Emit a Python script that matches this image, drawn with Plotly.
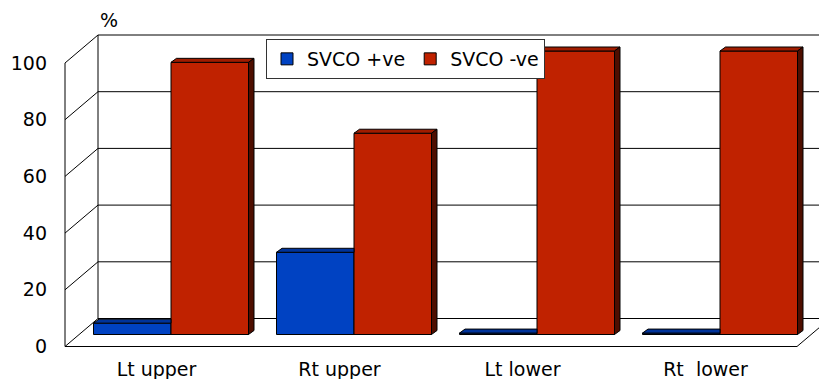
import plotly.graph_objects as go

# ---------------- data ----------------
categories = ["Lt upper", "Rt upper", "Lt lower", "Rt\u00a0 lower"]
svco_pos = [4, 29, 0.5, 0.5]
svco_neg = [96, 71, 100, 100]
y_ticks = [0, 20, 40, 60, 80, 100]
series_names = ["SVCO +ve", "SVCO -ve"]

# ---------------- style / geometry ----------------
W, H = 819, 379
M_L, M_R, M_T, M_B = 52, 0, 30, 27
X0_PX, CAT_PX = 171.0, 183.0      # bar-plane pixel of category 0, pixels per category
Y0_PX, UNIT_PX = 334.5, 2.835     # bar-plane pixel of value 0, pixels per unit
BAR_W = 77.5 / CAT_PX

front_col = ["#0042C2", "#C02200"]
top_col = ["#00339A", "#A01C00"]
side_col = ["#001E66", "#4E0E00"]
FONT = "DejaVu Sans"
FS = 19

# depth offsets (in data units)
fdx, fdy = -14.5 / CAT_PX, -12.0 / UNIT_PX   # front plane
bdx, bdy = 18.5 / CAT_PX, 16.0 / UNIT_PX     # back wall
ddx, ddy = 5.5 / CAT_PX, 4.0 / UNIT_PX       # bar depth

xr = [(M_L - X0_PX) / CAT_PX, (W - M_R - X0_PX) / CAT_PX]
yr = [(Y0_PX - (H - M_B)) / UNIT_PX, (Y0_PX - M_T) / UNIT_PX]

series = [svco_pos, svco_neg]
n = len(categories)
idx = list(range(n))
offsets = [-BAR_W, 0.0]

fig = go.Figure()

# bars (front faces)
for k, vals in enumerate(series):
    fig.add_trace(go.Bar(
        x=idx, y=vals, width=BAR_W, offset=offsets[k], name=series_names[k],
        marker=dict(color=front_col[k], line=dict(color="#000000", width=1)),
        hoverinfo="skip",
    ))

# 3D faces (top and side), computed from the values
for k, vals in enumerate(series):
    for i, v in enumerate(vals):
        xl = i + offsets[k]
        xrt = xl + BAR_W
        neighbor = series[k + 1][i] if k + 1 < len(series) else None
        if neighbor is not None and neighbor >= v + ddy:
            px = [xl, xrt, xrt, xl + ddx, xl]
            py = [v, v, v + ddy, v + ddy, v]
        else:
            px = [xl, xrt, xrt + ddx, xl + ddx, xl]
            py = [v, v, v + ddy, v + ddy, v]
        fig.add_trace(go.Scatter(
            x=px, y=py, mode="lines", fill="toself", fillcolor=top_col[k],
            line=dict(color="#000000", width=1), showlegend=False, hoverinfo="skip",
        ))
        base = 0 if neighbor is None else neighbor
        if base < v:
            sx = [xrt, xrt, xrt + ddx, xrt + ddx, xrt]
            sy = [base, v, v + ddy, base + ddy, base]
            fig.add_trace(go.Scatter(
                x=sx, y=sy, mode="lines", fill="toself", fillcolor=side_col[k],
                line=dict(color="#000000", width=1), showlegend=False, hoverinfo="skip",
            ))

# dummy trace for the front-plane axes
fig.add_trace(go.Scatter(x=[], y=[], xaxis="x2", yaxis="y2", showlegend=False))

# walls and floor
L, R = -0.5, n - 0.5
top = max(y_ticks)
line_style = dict(color="#000000", width=1)
shapes = []
for v in y_ticks:
    shapes.append(dict(type="line", xref="x", yref="y", x0=L + bdx, y0=v + bdy,
                       x1=R + bdx, y1=v + bdy, line=line_style, layer="below"))
    shapes.append(dict(type="line", xref="x", yref="y", x0=L + fdx, y0=v + fdy,
                       x1=L + bdx, y1=v + bdy, line=line_style, layer="below"))
shapes += [
    dict(type="line", xref="x", yref="y", x0=L + bdx, y0=bdy, x1=L + bdx, y1=top + bdy,
         line=line_style, layer="below"),
    dict(type="line", xref="x", yref="y", x0=R + bdx, y0=bdy, x1=R + bdx, y1=top + bdy,
         line=line_style, layer="below"),
    dict(type="line", xref="x", yref="y", x0=L + fdx, y0=fdy, x1=L + fdx, y1=top + fdy,
         line=line_style, layer="below"),
    dict(type="line", xref="x", yref="y", x0=L + fdx, y0=fdy, x1=R + fdx, y1=fdy,
         line=line_style, layer="below"),
    dict(type="line", xref="x", yref="y", x0=R + fdx, y0=fdy, x1=R + bdx, y1=bdy,
         line=line_style, layer="below"),
]

plot_w = W - M_L - M_R
plot_h = H - M_T - M_B

fig.update_layout(
    width=W, height=H,
    margin=dict(l=M_L, r=M_R, t=M_T, b=M_B, pad=0),
    paper_bgcolor="white", plot_bgcolor="white",
    font=dict(family=FONT, size=FS, color="#000000"),
    barmode="overlay",
    shapes=shapes,
    xaxis=dict(range=xr, visible=False, fixedrange=True),
    yaxis=dict(range=yr, visible=False, fixedrange=True),
    xaxis2=dict(range=[xr[0] - fdx, xr[1] - fdx], overlaying="x", side="bottom",
                tickmode="array", tickvals=idx, ticktext=categories,
                showgrid=False, zeroline=False, showline=False, ticks="",
                ticklabelstandoff=4, tickfont=dict(family=FONT, size=FS), fixedrange=True),
    yaxis2=dict(range=[yr[0] - fdy, yr[1] - fdy], overlaying="y", side="left",
                tickmode="array", tickvals=y_ticks, ticktext=[str(t) for t in y_ticks],
                showgrid=False, zeroline=False, showline=False, ticks="",
                ticklabelstandoff=4, tickfont=dict(family=FONT, size=FS), fixedrange=True),
    legend=dict(orientation="h", x=(266 - M_L) / plot_w, y=(H - M_B - 39) / plot_h,
                xanchor="left", yanchor="top", bgcolor="white",
                bordercolor="#333333", borderwidth=1, itemwidth=30,
                font=dict(family=FONT, size=FS), traceorder="normal"),
    annotations=[dict(text="%", xref="paper", yref="paper",
                      x=(109 - M_L) / plot_w, y=(H - M_B - 20) / plot_h,
                      showarrow=False, xanchor="center", yanchor="middle",
                      font=dict(family=FONT, size=FS))],
    showlegend=True,
)

fig.write_html(
    "out.html",
    config={"displayModeBar": False},
    post_script="document.body.style.margin='0px';document.body.style.overflow='hidden';",
)
